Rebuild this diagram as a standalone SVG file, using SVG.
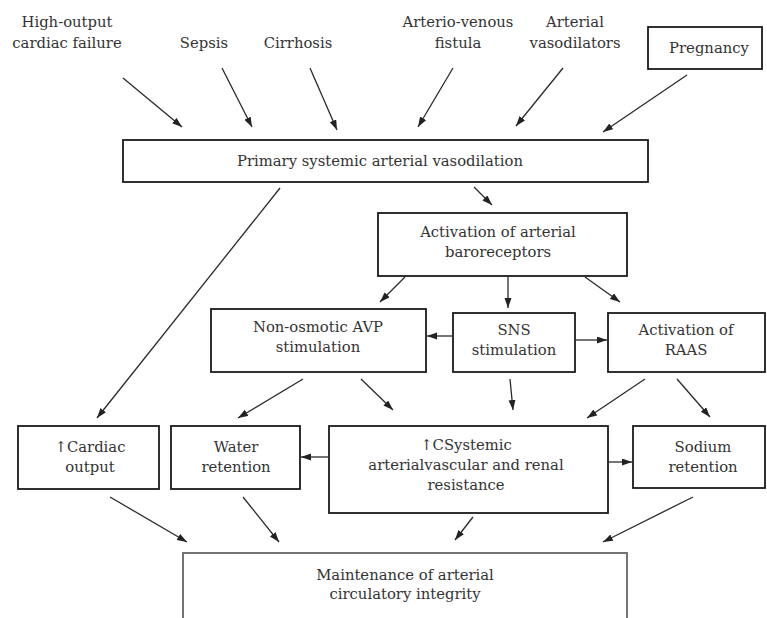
<svg xmlns="http://www.w3.org/2000/svg" width="767" height="618" viewBox="0 0 767 618">
  <defs>
    <marker id="arr" markerUnits="userSpaceOnUse" markerWidth="11" markerHeight="8" refX="10" refY="3.5" orient="auto">
      <path d="M0,0 L10,3.5 L0,7 z" fill="#222"/>
    </marker>
    <style>
      .box { fill: #fff; stroke: #1a1a1a; stroke-width: 1.8; }
      .soft { stroke: #666; }
      text { font-family: "DejaVu Serif", "Liberation Serif", serif; font-size: 14.8px; fill: #333; text-anchor: middle; }
      #connectors line { stroke: #2a2a2a; stroke-width: 1.3; marker-end: url(#arr); }
    </style>
  </defs>
  <rect width="767" height="618" fill="#fff"/>

  <!-- causes -->
  <g id="high-output">
    <text x="67" y="27">High-output</text>
    <text x="67" y="48">cardiac failure</text>
  </g>
  <g id="sepsis"><text x="204" y="48">Sepsis</text></g>
  <g id="cirrhosis"><text x="298" y="48">Cirrhosis</text></g>
  <g id="av-fistula">
    <text x="458" y="27">Arterio-venous</text>
    <text x="458" y="48">fistula</text>
  </g>
  <g id="vasodilators">
    <text x="575" y="27">Arterial</text>
    <text x="575" y="48">vasodilators</text>
  </g>
  <g id="pregnancy">
    <rect class="box" x="648" y="27" width="114" height="42"/>
    <text x="709" y="53">Pregnancy</text>
  </g>

  <g id="primary">
    <rect class="box" x="123" y="140" width="525" height="42"/>
    <text x="380" y="166">Primary systemic arterial vasodilation</text>
  </g>

  <g id="baroreceptors">
    <rect class="box" x="378" y="213" width="249" height="63"/>
    <text x="498" y="237">Activation of arterial</text>
    <text x="498" y="257">baroreceptors</text>
  </g>

  <g id="avp">
    <rect class="box" x="211" y="309" width="215" height="63"/>
    <text x="318" y="332">Non-osmotic AVP</text>
    <text x="318" y="352">stimulation</text>
  </g>
  <g id="sns">
    <rect class="box" x="453" y="313" width="122" height="59"/>
    <text x="514" y="335">SNS</text>
    <text x="514" y="355">stimulation</text>
  </g>
  <g id="raas">
    <rect class="box" x="608" y="313" width="157" height="59"/>
    <text x="686" y="335">Activation of</text>
    <text x="686" y="355">RAAS</text>
  </g>

  <g id="cardiac-output">
    <rect class="box" x="18" y="426" width="141" height="63"/>
    <text x="90" y="452">↑Cardiac</text>
    <text x="90" y="472">output</text>
  </g>
  <g id="water">
    <rect class="box" x="171" y="426" width="129" height="63"/>
    <text x="236" y="452">Water</text>
    <text x="236" y="472">retention</text>
  </g>
  <g id="resistance">
    <rect class="box" x="329" y="426" width="279" height="87"/>
    <text x="466" y="450">↑CSystemic</text>
    <text x="466" y="470">arterialvascular and renal</text>
    <text x="466" y="490">resistance</text>
  </g>
  <g id="sodium">
    <rect class="box" x="633" y="426" width="132" height="62"/>
    <text x="703" y="452">Sodium</text>
    <text x="703" y="472">retention</text>
  </g>

  <g id="maintenance">
    <rect class="box soft" x="183" y="553" width="444" height="80"/>
    <text x="405" y="580">Maintenance of arterial</text>
    <text x="405" y="599">circulatory integrity</text>
  </g>

  <g id="connectors">
    <line x1="123" y1="78" x2="182" y2="127"/>
    <line x1="222" y1="68" x2="252" y2="127"/>
    <line x1="310" y1="68" x2="337" y2="130"/>
    <line x1="453" y1="68" x2="418" y2="127"/>
    <line x1="563" y1="68" x2="516" y2="126"/>
    <line x1="687" y1="75" x2="603" y2="132"/>
    <line x1="474" y1="187" x2="492" y2="205"/>
    <line x1="280" y1="188" x2="97" y2="418"/>
    <line x1="405" y1="277" x2="380" y2="302"/>
    <line x1="508" y1="277" x2="508" y2="308"/>
    <line x1="585" y1="277" x2="620" y2="302"/>
    <line x1="453" y1="336" x2="427" y2="336"/>
    <line x1="575" y1="340" x2="607" y2="340"/>
    <line x1="303" y1="379" x2="238" y2="418"/>
    <line x1="361" y1="379" x2="393" y2="410"/>
    <line x1="510" y1="379" x2="513" y2="410"/>
    <line x1="645" y1="379" x2="587" y2="418"/>
    <line x1="677" y1="379" x2="710" y2="417"/>
    <line x1="329" y1="457" x2="301" y2="457"/>
    <line x1="608" y1="462" x2="632" y2="462"/>
    <line x1="110" y1="497" x2="187" y2="542"/>
    <line x1="243" y1="497" x2="279" y2="542"/>
    <line x1="473" y1="517" x2="455" y2="540"/>
    <line x1="693" y1="497" x2="603" y2="542"/>
  </g>
</svg>
